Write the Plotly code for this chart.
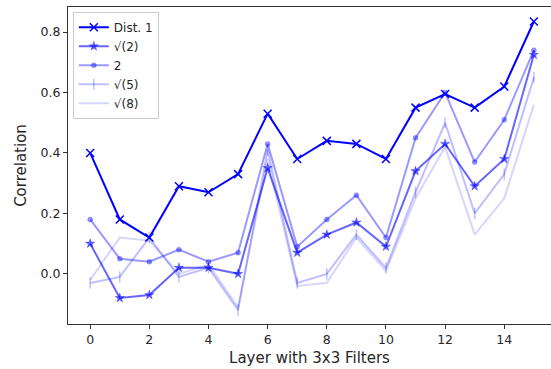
import plotly.graph_objects as go

layers = list(range(16))
dist_1 = [0.40, 0.18, 0.12, 0.29, 0.27, 0.33, 0.53, 0.38, 0.44, 0.43, 0.38, 0.55, 0.595, 0.55, 0.62, 0.835]
dist_sqrt2 = [0.10, -0.08, -0.07, 0.02, 0.02, 0.00, 0.35, 0.07, 0.13, 0.17, 0.09, 0.34, 0.43, 0.29, 0.38, 0.725]
dist_2 = [0.18, 0.05, 0.04, 0.08, 0.04, 0.07, 0.43, 0.09, 0.18, 0.26, 0.12, 0.45, 0.60, 0.37, 0.51, 0.74]
dist_sqrt5 = [-0.03, -0.01, 0.12, -0.01, 0.02, -0.12, 0.41, -0.03, 0.00, 0.13, 0.02, 0.27, 0.50, 0.20, 0.33, 0.65]
dist_sqrt8 = [-0.02, 0.12, 0.11, 0.00, 0.03, -0.11, 0.38, -0.04, -0.03, 0.12, 0.01, 0.25, 0.42, 0.13, 0.25, 0.56]

series_names = ["Dist. 1", "√(2)", "2", "√(5)", "√(8)"]
series_values = [dist_1, dist_sqrt2, dist_2, dist_sqrt5, dist_sqrt8]
alphas = [1.0, 0.6, 0.4, 0.25, 0.17]
symbols = ["x-thin", "star", "circle", "line-ns", None]
sizes = [8, 7, 5, 8, 0]

font_family = "DejaVu Sans"
txt = "#262626"

fig = go.Figure()
for name, vals, a, sym, sz in zip(series_names, series_values, alphas, symbols, sizes):
    col = f"rgba(0,0,255,{a})"
    if sym is None:
        mode = "lines"
        marker = None
    else:
        mode = "lines+markers"
        marker = dict(symbol=sym, size=sz, color=col,
                      line=dict(color=col, width=1.5 if sym in ("x-thin", "line-ns") else 0.5))
    fig.add_trace(go.Scatter(x=layers, y=vals, name=name, mode=mode,
                             line=dict(color=col, width=2), marker=marker))

fig.update_layout(
    width=551, height=369,
    margin=dict(l=68, r=0, t=7, b=45, autoexpand=False),
    paper_bgcolor="white", plot_bgcolor="white",
    font=dict(family=font_family, size=12.5, color=txt),
    showlegend=True,
    legend=dict(x=0.01, y=0.985, xanchor="left", yanchor="top",
                bgcolor="rgba(255,255,255,0.8)", bordercolor="#cccccc", borderwidth=1,
                font=dict(size=12, color=txt), tracegroupgap=0),
    xaxis=dict(range=[-0.75, 15.58], tickmode="array", tickvals=list(range(0, 15, 2)),
               showgrid=False, zeroline=False, showline=True, mirror=True,
               linecolor="#333333", linewidth=1, ticks="outside", ticklen=4,
               tickcolor="#333333", automargin=False,
               title=dict(text="Layer with 3x3 Filters", standoff=6)),
    yaxis=dict(range=[-0.166, 0.883], tickmode="array", tickvals=[0.0, 0.2, 0.4, 0.6, 0.8],
               ticktext=["0.0", "0.2", "0.4", "0.6", "0.8"],
               showgrid=False, zeroline=False, showline=True, mirror=False,
               linecolor="#333333", linewidth=1, ticks="outside", ticklen=4,
               tickcolor="#333333", automargin=False,
               title=dict(text="Correlation", standoff=10)),
)

fig.write_html("out.html", config={"displayModeBar": False},
               post_script="document.body.style.margin='0px';")
